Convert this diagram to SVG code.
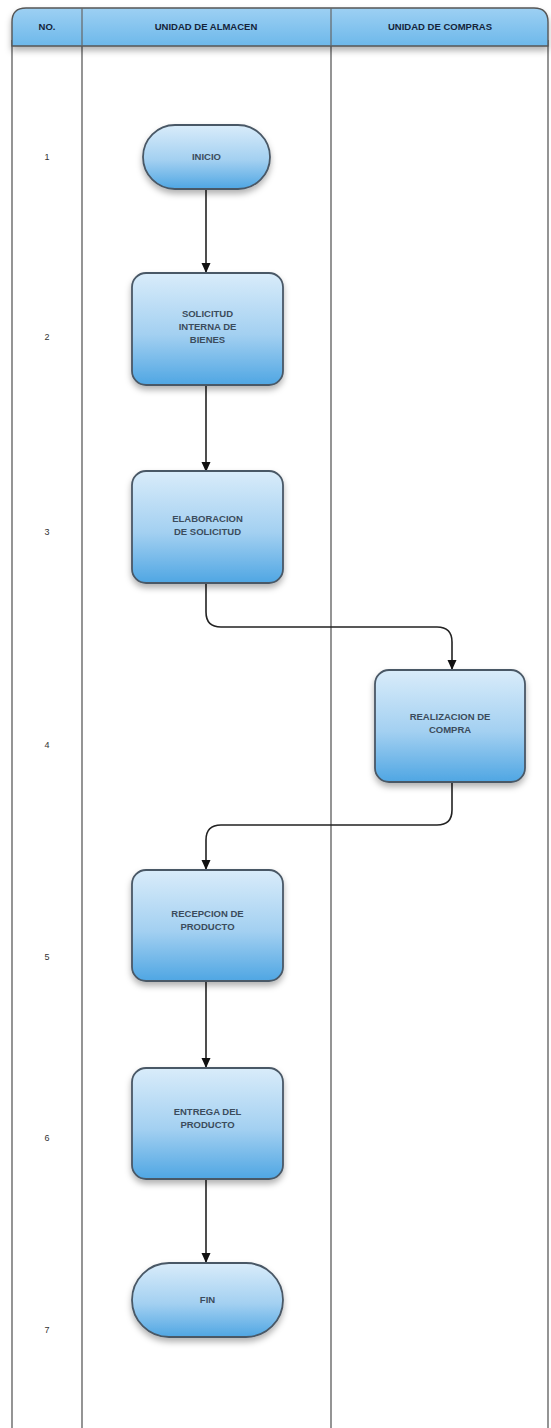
<svg xmlns="http://www.w3.org/2000/svg" width="551" height="1428" viewBox="0 0 551 1428">
<defs>
<linearGradient id="nodeGrad" x1="0" y1="0" x2="0" y2="1">
<stop offset="0" stop-color="#d9ecfa"/>
<stop offset="0.55" stop-color="#a3d0f1"/>
<stop offset="1" stop-color="#4fa6e3"/>
</linearGradient>
<linearGradient id="headGrad" x1="0" y1="0" x2="0" y2="1">
<stop offset="0" stop-color="#9dd0f3"/>
<stop offset="1" stop-color="#6db8ea"/>
</linearGradient>
<filter id="shadow" x="-20%" y="-20%" width="140%" height="150%">
<feDropShadow dx="0" dy="4" stdDeviation="3" flood-color="#000" flood-opacity="0.3"/>
</filter>
<marker id="arrow" viewBox="0 0 10 10" refX="10" refY="5" markerWidth="10" markerHeight="10" markerUnits="userSpaceOnUse" orient="auto">
<path d="M0,0.5 L10,5 L0,9.5 z" fill="#111"/>
</marker>
</defs>
<style>
.node { fill: url(#nodeGrad); stroke: #4a5866; stroke-width: 1.8; filter: url(#shadow); }
.label { font-family: "Liberation Sans", Arial, sans-serif; font-size: 9.5px; font-weight: bold; fill: #3b4c5c; text-anchor: middle; }
.head { font-family: "Liberation Sans", Arial, sans-serif; font-size: 9.5px; font-weight: bold; fill: #15243a; text-anchor: middle; }
.num { font-family: "Liberation Sans", Arial, sans-serif; font-size: 9px; fill: #333; text-anchor: middle; }
.lane { stroke: #7a7a7a; stroke-width: 1.6; fill: none; }
.conn { stroke: #222; stroke-width: 1.6; fill: none; marker-end: url(#arrow); }
</style>
<rect x="0" y="0" width="551" height="1428" fill="#ffffff"/>
<g id="lanes">
<line class="lane" x1="12" y1="40" x2="12" y2="1428"/>
<line class="lane" x1="82" y1="40" x2="82" y2="1428"/>
<line class="lane" x1="331" y1="40" x2="331" y2="1428"/>
<line class="lane" x1="548" y1="40" x2="548" y2="1428" stroke="#cfcfcf"/>
</g>
<g id="header">
<path d="M12,46 V22 Q12,8 26,8 H534 Q548,8 548,22 V46 Z" fill="url(#headGrad)" stroke="#555" stroke-width="1.4" filter="url(#shadow)"/>
<line x1="82" y1="8" x2="82" y2="46" stroke="#666" stroke-width="1.2"/>
<line x1="331" y1="8" x2="331" y2="46" stroke="#666" stroke-width="1.2"/>
<text class="head" x="47" y="30">NO.</text>
<text class="head" x="206" y="30">UNIDAD DE ALMACEN</text>
<text class="head" x="440" y="30">UNIDAD DE COMPRAS</text>
</g>
<g id="numbers">
<text class="num" x="47" y="160">1</text>
<text class="num" x="47" y="340">2</text>
<text class="num" x="47" y="535">3</text>
<text class="num" x="47" y="748">4</text>
<text class="num" x="47" y="960">5</text>
<text class="num" x="47" y="1141">6</text>
<text class="num" x="47" y="1333">7</text>
</g>
<g id="connectors">
<path class="conn" d="M206,189 V273"/>
<path class="conn" d="M206,385 V472"/>
<path class="conn" d="M206,583 V612 Q206,627 221,627 H437 Q452,627 452,642 V670"/>
<path class="conn" d="M452,782 V810 Q452,825 437,825 H221 Q206,825 206,840 V870"/>
<path class="conn" d="M206,981 V1068"/>
<path class="conn" d="M206,1179 V1263"/>
</g>
<g id="n-inicio">
<rect class="node" x="143" y="125" width="127" height="64" rx="32" ry="32"/>
<text class="label" x="206.5" y="160">INICIO</text>
</g>
<g id="n-solicitud">
<rect class="node" x="132" y="273" width="151" height="112" rx="14" ry="14"/>
<text class="label" x="207.5" y="317">SOLICITUD</text>
<text class="label" x="207.5" y="330">INTERNA DE</text>
<text class="label" x="207.5" y="343">BIENES</text>
</g>
<g id="n-elaboracion">
<rect class="node" x="132" y="471" width="151" height="112" rx="14" ry="14"/>
<text class="label" x="207.5" y="522">ELABORACION</text>
<text class="label" x="207.5" y="535">DE SOLICITUD</text>
</g>
<g id="n-realizacion">
<rect class="node" x="375" y="670" width="150" height="112" rx="14" ry="14"/>
<text class="label" x="450" y="720">REALIZACION DE</text>
<text class="label" x="450" y="733">COMPRA</text>
</g>
<g id="n-recepcion">
<rect class="node" x="132" y="870" width="151" height="111" rx="14" ry="14"/>
<text class="label" x="207.5" y="917">RECEPCION DE</text>
<text class="label" x="207.5" y="930">PRODUCTO</text>
</g>
<g id="n-entrega">
<rect class="node" x="132" y="1068" width="151" height="111" rx="14" ry="14"/>
<text class="label" x="207.5" y="1115">ENTREGA DEL</text>
<text class="label" x="207.5" y="1128">PRODUCTO</text>
</g>
<g id="n-fin">
<rect class="node" x="132" y="1263" width="151" height="74" rx="37" ry="37"/>
<text class="label" x="207.5" y="1303">FIN</text>
</g>
</svg>
